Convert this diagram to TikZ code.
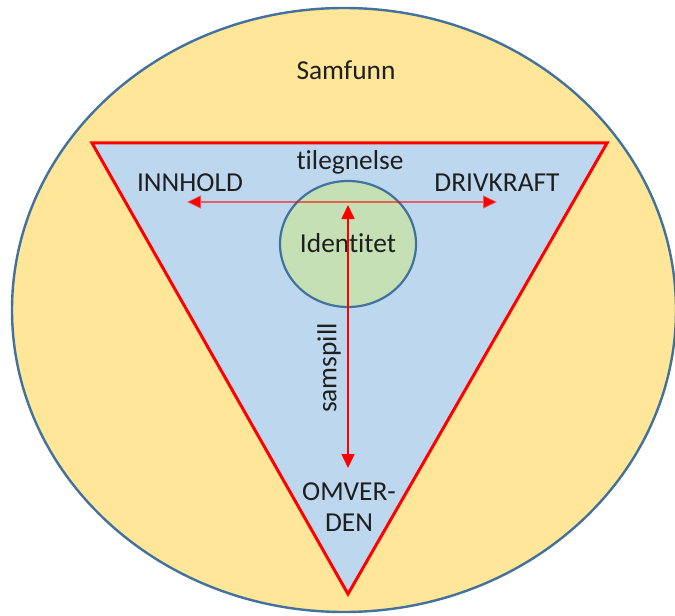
\documentclass[tikz,border=0pt]{standalone}
\usepackage{fontspec}
\setmainfont{Carlito}[Ligatures=NoCommon]
\usetikzlibrary{arrows.meta,shapes.geometric}
\definecolor{samfill}{HTML}{FFE699}
\definecolor{edgeblue}{HTML}{41719C}
\definecolor{trifill}{HTML}{BDD7EE}
\definecolor{idfill}{HTML}{C5E0B4}
\definecolor{txt}{HTML}{1F1F1F}
\tikzset{
  lbl/.style={text=txt, font=\fontsize{27.5}{31}\selectfont, inner sep=0pt},
  redarrow/.style={draw=red, line width=1.6bp, {Triangle[length=14bp,width=13bp]}-{Triangle[length=14bp,width=13bp]}},
}
\begin{document}
\begin{tikzpicture}[x=1bp,y=-1bp]
\useasboundingbox (0,0) rectangle (675,616);
% outer ellipse
\draw[fill=samfill, draw=edgeblue, line width=2.4bp] (344,310) ellipse [x radius=332, y radius=302];
% triangle
\draw[fill=trifill, draw=red, line width=3bp, line join=miter] (92,143) -- (607,143) -- (348,594) -- cycle;
% identity circle
\node[draw=edgeblue, fill=idfill, line width=2.2bp, ellipse, minimum width=136bp, minimum height=126bp, inner sep=0pt] (idc) at (348,244) {};
% labels
\node[lbl] (samfunn) at (346,70) {Samfunn};
\node[lbl] (innhold) at (190,183) {INNHOLD};
\node[lbl] (drivkraft) at (497,183) {DRIVKRAFT};
\node[lbl] (tilegnelse) at (350,162) {tilegnelse};
\node[lbl] (identitet) at (348,243) {Identitet};
\node[lbl, rotate=90] (samspill) at (329,368) {samspill};
\node[lbl, align=center] (omverden) at (349,507) {OMVER-\\DEN};
% arrow ends
\coordinate (hl) at (187,202);
\coordinate (hr) at (497,202);
\coordinate (vt) at (348,205);
\coordinate (vb) at (348,468);
\draw[redarrow, draw opacity=0.55] (hl) -- (hr);
\draw[redarrow] (vt) -- (vb);
\end{tikzpicture}
\end{document}
